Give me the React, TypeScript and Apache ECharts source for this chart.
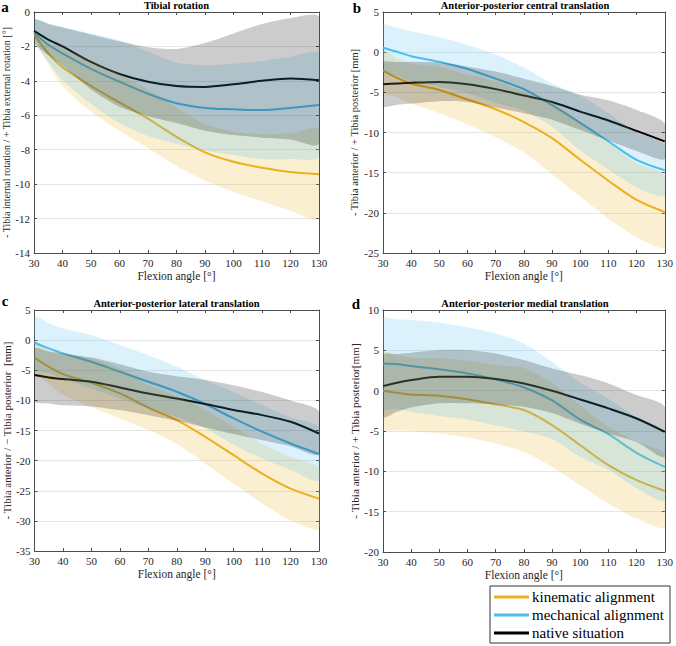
import React, { useEffect, useRef } from 'react';
import * as echarts from 'echarts';

// Flexion angle samples [°]
const FLEX = [30, 35, 40, 50, 60, 70, 80, 90, 100, 110, 120, 130];

// a) Tibial rotation [°]
const KIN_A = [-1.3, -2.4, -3.2, -4.3, -5.25, -6.2, -7.25, -8.15, -8.7, -9.05, -9.3, -9.42];
const KIN_A_HI = [-1.15, -1.8, -2.1, -2.8, -3.6, -4.5, -5.55, -6.5, -6.95, -7.1, -7.05, -6.84];
const KIN_A_LO = [-1.45, -3.0, -4.3, -5.8, -6.9, -7.9, -8.95, -9.8, -10.45, -11.0, -11.55, -12.0];
const MECH_A = [-1.2, -1.9, -2.4, -3.3, -4.05, -4.75, -5.3, -5.57, -5.65, -5.7, -5.57, -5.4];
const MECH_A_HI = [-0.42, -0.65, -0.85, -1.25, -1.65, -2.3, -2.95, -3.1, -3.0, -2.85, -2.6, -2.41];
const MECH_A_LO = [-1.7, -2.9, -3.95, -5.35, -6.45, -7.2, -7.65, -8.04, -8.3, -8.55, -8.54, -8.39];
const NAT_A = [-1.1, -1.6, -2.0, -2.9, -3.6, -4.05, -4.3, -4.35, -4.2, -4.0, -3.87, -3.97];
const NAT_A_HI = [-0.45, -0.7, -0.9, -1.3, -1.7, -2.05, -2.15, -1.8, -1.25, -0.7, -0.35, -0.29];
const NAT_A_LO = [-1.75, -2.5, -3.1, -4.5, -5.5, -6.05, -6.45, -6.9, -7.15, -7.3, -7.4, -7.65];

// b) Anterior-posterior central translation [mm]
const KIN_B = [-2.3, -3.2, -3.9, -4.7, -5.9, -7.1, -8.7, -10.7, -13.4, -16.0, -18.4, -19.9];
const KIN_B_HI = [0.3, -0.8, -1.4, -1.8, -2.8, -3.6, -4.9, -6.2, -8.8, -11.3, -13.8, -15.5];
const KIN_B_LO = [-4.9, -5.6, -6.4, -7.6, -9.0, -10.6, -12.5, -15.2, -18.0, -20.7, -23.0, -24.3];
const MECH_B = [0.56, 0.05, -0.5, -1.2, -2.1, -3.3, -4.6, -6.6, -8.8, -11.1, -13.4, -14.7];
const MECH_B_HI = [3.4, 3.0, 2.6, 1.85, 0.9, -0.3, -1.9, -3.9, -5.4, -7.6, -10.0, -11.6];
const MECH_B_LO = [-2.3, -2.9, -3.6, -4.3, -5.1, -6.3, -7.3, -9.3, -12.2, -14.6, -16.8, -17.8];
const NAT_B = [-4.0, -3.9, -3.8, -3.7, -4.0, -4.6, -5.4, -6.2, -7.4, -8.5, -9.8, -11.1];
const NAT_B_HI = [-1.3, -1.25, -1.2, -1.3, -1.8, -2.4, -3.3, -4.2, -5.3, -6.0, -7.2, -8.9];
const NAT_B_LO = [-6.7, -6.55, -6.4, -6.1, -6.2, -6.9, -7.6, -8.4, -9.7, -11.0, -12.3, -13.3];

// c) Anterior-posterior lateral translation [mm]
const KIN_C = [-2.92, -4.42, -5.64, -7.08, -8.85, -11.2, -13.28, -16.05, -19.1, -22.15, -24.64, -26.3];
const KIN_C_HI = [-0.84, -1.64, -2.18, -3.06, -4.7, -7.5, -9.36, -11.6, -14.4, -17.2, -19.4, -21.3];
const KIN_C_LO = [-5.0, -7.2, -9.1, -11.1, -13.0, -14.9, -17.2, -20.5, -23.8, -27.1, -29.9, -31.3];
const MECH_C = [-0.43, -1.37, -2.2, -3.6, -5.25, -6.9, -8.57, -10.6, -13.0, -15.2, -17.16, -18.9];
const MECH_C_HI = [3.9, 2.8, 1.95, 0.84, -0.82, -2.5, -4.4, -6.6, -8.6, -10.8, -12.8, -14.5];
const MECH_C_LO = [-4.76, -5.54, -6.35, -8.04, -9.68, -11.3, -12.74, -14.6, -17.4, -19.6, -21.5, -23.3];
const NAT_C = [-5.8, -6.2, -6.47, -6.9, -7.85, -8.85, -9.7, -10.6, -11.6, -12.45, -13.56, -15.5];
const NAT_C_HI = [-1.4, -1.9, -2.2, -2.9, -4.0, -5.25, -6.0, -6.6, -7.5, -8.6, -10.0, -11.8];
const NAT_C_LO = [-10.2, -10.5, -10.8, -11.0, -11.6, -12.45, -13.4, -14.5, -15.6, -16.6, -17.6, -19.0];

// d) Anterior-posterior medial translation [mm]
const KIN_D = [-0.01, -0.26, -0.47, -0.63, -1.05, -1.7, -2.4, -4.27, -6.76, -9.24, -11.1, -12.43];
const KIN_D_HI = [4.75, 4.4, 4.06, 4.04, 3.7, 3.15, 2.8, 0.91, -1.82, -4.48, -6.34, -7.96];
const KIN_D_LO = [-4.77, -4.9, -5.0, -5.3, -5.8, -6.55, -7.6, -9.45, -11.7, -14.0, -15.86, -16.9];
const MECH_D = [3.38, 3.3, 3.05, 2.64, 2.14, 1.4, 0.4, -1.2, -3.6, -5.4, -7.7, -9.45];
const MECH_D_HI = [8.97, 8.85, 8.76, 8.43, 7.85, 7.1, 5.86, 3.59, 1.0, -1.0, -3.3, -5.3];
const MECH_D_LO = [-2.21, -2.25, -2.66, -3.15, -3.57, -4.3, -5.06, -5.99, -8.2, -9.8, -12.1, -13.6];
const NAT_D = [0.57, 0.98, 1.31, 1.73, 1.73, 1.44, 0.9, -0.01, -1.09, -2.2, -3.45, -5.1];
const NAT_D_HI = [4.4, 4.55, 4.7, 5.03, 5.03, 4.6, 3.8, 2.76, 1.93, 0.9, -0.55, -2.0];
const NAT_D_LO = [-3.26, -2.6, -2.08, -1.57, -1.57, -1.72, -2.0, -2.78, -4.11, -5.3, -6.35, -8.2];

const NAMES = ['kinematic alignment', 'mechanical alignment', 'native situation'];
const TITLES = [
  'Tibial rotation',
  'Anterior-posterior central translation',
  'Anterior-posterior lateral translation',
  'Anterior-posterior medial translation',
];
const LETTERS = ['a', 'b', 'c', 'd'];
const Y_NAMES = [
  '- Tibia internal rotation / + Tibia external rotation [°]',
  '- Tibia anterior / + Tibia posterior [mm]',
  '- Tibia anterior / \u2212 Tibia posterior  [mm]',
  '- Tibia anterior / + Tibia posterior[mm]',
];
const X_NAME = 'Flexion angle [°]';
const Y_RANGES = [
  [-14, 0, 2],
  [-25, 5, 5],
  [-35, 5, 5],
  [-20, 10, 5],
];

const MEANS = [
  [KIN_A, MECH_A, NAT_A],
  [KIN_B, MECH_B, NAT_B],
  [KIN_C, MECH_C, NAT_C],
  [KIN_D, MECH_D, NAT_D],
];
const HIS = [
  [KIN_A_HI, MECH_A_HI, NAT_A_HI],
  [KIN_B_HI, MECH_B_HI, NAT_B_HI],
  [KIN_C_HI, MECH_C_HI, NAT_C_HI],
  [KIN_D_HI, MECH_D_HI, NAT_D_HI],
];
const LOS = [
  [KIN_A_LO, MECH_A_LO, NAT_A_LO],
  [KIN_B_LO, MECH_B_LO, NAT_B_LO],
  [KIN_C_LO, MECH_C_LO, NAT_C_LO],
  [KIN_D_LO, MECH_D_LO, NAT_D_LO],
];

const LINE_COLORS = ['#EDB120', '#4DBEEE', '#000000'];
const BAND_COLORS = ['rgba(237,177,32,0.2)', 'rgba(77,190,238,0.2)', 'rgba(0,0,0,0.2)'];

const SERIF = 'Liberation Serif';
const AXIS_COLOR = '#4d4d4d';
const TEXT_COLOR = '#262626';

const GRIDS = [
  { left: 34, top: 12, width: 285, height: 241 },
  { left: 383, top: 12, width: 284, height: 241 },
  { left: 34, top: 310, width: 285, height: 241 },
  { left: 383, top: 310, width: 284, height: 242 },
];
const Y_NAME_GAP = [21, 23, 20, 22];
const Y_NAME_SIZE = [10, 10.5, 11, 11.2];
const LETTER_POS = [[5, 1.5], [357, 2.5], [5, 296], [356, 298.5]];

const SMOOTH = 0.3;

export default function App() {
  const ref = useRef<HTMLDivElement>(null);

  useEffect(() => {
    document.body.style.margin = '0';
    if (!ref.current) return;
    const chart = echarts.init(ref.current, null, { renderer: 'svg' });

    const xAxis: any[] = [];
    const yAxis: any[] = [];
    const series: any[] = [];
    const graphic: any[] = [];

    const pts = (ys: number[]) => FLEX.map((x, i) => [x, ys[i]]);

    GRIDS.forEach((g, p) => {
      const [yMin, yMax, yStep] = Y_RANGES[p];
      const lineStyle = { color: AXIS_COLOR, width: 1 };
      xAxis.push({
        gridIndex: p,
        type: 'value',
        min: 30,
        max: 130,
        interval: 10,
        position: 'bottom',
        name: X_NAME,
        nameLocation: 'middle',
        nameGap: 17,
        nameTextStyle: { fontFamily: SERIF, fontSize: 11.5, color: TEXT_COLOR },
        axisLine: { show: true, onZero: false, lineStyle },
        axisTick: { show: true, inside: true, length: 3, lineStyle },
        axisLabel: { fontFamily: SERIF, fontSize: 11, color: TEXT_COLOR, margin: 4 },
        splitLine: { show: false },
      });
      xAxis.push({
        gridIndex: p,
        type: 'value',
        min: 30,
        max: 130,
        interval: 10,
        position: 'top',
        axisLine: { show: true, onZero: false, lineStyle },
        axisTick: { show: true, inside: true, length: 3, lineStyle },
        axisLabel: { show: false },
        splitLine: { show: false },
      });
      yAxis.push({
        gridIndex: p,
        type: 'value',
        min: yMin,
        max: yMax,
        interval: yStep,
        position: 'left',
        name: Y_NAMES[p],
        nameLocation: 'middle',
        nameGap: Y_NAME_GAP[p],
        nameTextStyle: { fontFamily: SERIF, fontSize: Y_NAME_SIZE[p], color: TEXT_COLOR },
        axisLine: { show: true, onZero: false, lineStyle },
        axisTick: { show: true, inside: true, length: 3, lineStyle },
        axisLabel: { fontFamily: SERIF, fontSize: 11, color: TEXT_COLOR, margin: 4 },
        splitLine: { show: true, lineStyle: { color: '#e6e6e6', width: 1 } },
      });
      yAxis.push({
        gridIndex: p,
        type: 'value',
        min: yMin,
        max: yMax,
        interval: yStep,
        position: 'right',
        axisLine: { show: true, onZero: false, lineStyle },
        axisTick: { show: true, inside: true, length: 3, lineStyle },
        axisLabel: { show: false },
        splitLine: { show: false },
      });

      // mean curves (drawn below the transparent bands)
      MEANS[p].forEach((m, k) => {
        series.push({
          type: 'line',
          name: NAMES[k],
          xAxisIndex: 2 * p,
          yAxisIndex: 2 * p,
          data: pts(m),
          smooth: SMOOTH,
          symbol: 'none',
          color: LINE_COLORS[k],
          lineStyle: { color: LINE_COLORS[k], width: 2 },
          itemStyle: { color: LINE_COLORS[k] },
          z: 2,
          silent: true,
          emphasis: { disabled: true },
        });
      });

      // standard deviation bands
      [0, 1, 2].forEach((k) => {
        const hi = HIS[p][k];
        const lo = LOS[p][k];
        series.push({
          type: 'custom',
          name: `${NAMES[k]} band`,
          xAxisIndex: 2 * p,
          yAxisIndex: 2 * p,
          data: [[FLEX[0], lo[0]]],
          clip: true,
          silent: true,
          z: 3,
          renderItem: (_params: any, api: any) => {
            const up = FLEX.map((x, i) => api.coord([x, hi[i]]));
            const dn = FLEX.map((x, i) => api.coord([x, lo[i]])).reverse();
            return {
              type: 'polygon',
              shape: { points: up.concat(dn), smooth: 0.25 },
              style: { fill: BAND_COLORS[k], stroke: 'none' },
            };
          },
        });
      });

      graphic.push({
        type: 'text',
        x: g.left + g.width / 2,
        y: g.top - 6.5,
        style: {
          text: TITLES[p],
          fontFamily: SERIF,
          fontWeight: 'bold',
          fontSize: 10.5,
          fill: '#000',
          textAlign: 'center',
          textVerticalAlign: 'middle',
        },
      });
      graphic.push({
        type: 'text',
        x: LETTER_POS[p][0],
        y: LETTER_POS[p][1],
        style: {
          text: LETTERS[p],
          fontFamily: SERIF,
          fontWeight: 'bold',
          fontSize: 15,
          lineHeight: 10,
          fill: '#000',
          textAlign: 'center',
          textVerticalAlign: 'top',
        },
      });
    });

    chart.setOption({
      animation: false,
      backgroundColor: '#ffffff',
      grid: GRIDS.map((g) => ({ ...g, containLabel: false })),
      xAxis,
      yAxis,
      series,
      graphic,
      legend: {
        data: NAMES,
        orient: 'vertical',
        left: 490,
        top: 586,
        icon: 'rect',
        itemWidth: 35,
        itemHeight: 3,
        itemGap: 2,
        padding: [3, 6, 2, 4],
        borderColor: '#333',
        borderWidth: 1,
        backgroundColor: '#ffffff',
        selectedMode: false,
        textStyle: { fontFamily: SERIF, fontSize: 15, lineHeight: 16, color: '#000', padding: [0, 0, 0, -2] },
      },
    });

    return () => chart.dispose();
  }, []);

  return <div ref={ref} style={{ width: 676, height: 646 }} />;
}
